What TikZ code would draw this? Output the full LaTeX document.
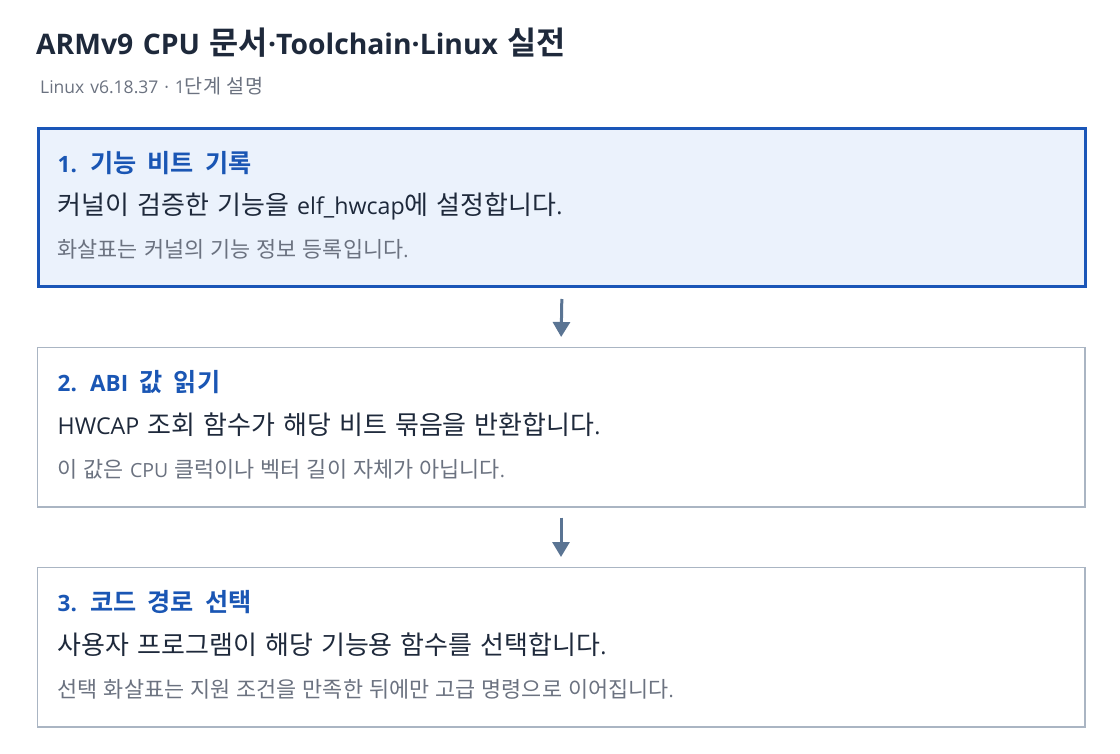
\documentclass[tikz,border=0pt]{standalone}
\usepackage{fontspec}
\setmainfont{Open Sans}
\newfontfamily\krfont{Noto Sans CJK KR}[Scale=1.12, BoldFont={Noto Sans CJK KR Bold}]
\usetikzlibrary{arrows.meta}
% Hangul syllables are set in Noto Sans CJK KR, everything else in Open Sans
\XeTeXinterchartokenstate=1
\newXeTeXintercharclass\hangulclass
\newcount\hcnt
\hcnt="AC00
\loop
  \XeTeXcharclass\hcnt=\hangulclass
  \ifnum\hcnt<"D7A3 \advance\hcnt by 1
\repeat
\XeTeXinterchartoks 0 \hangulclass = {\krfont}
\XeTeXinterchartoks 4095 \hangulclass = {\krfont}
\XeTeXinterchartoks \hangulclass 0 = {\rmfamily}
\XeTeXinterchartoks \hangulclass 4095 = {\rmfamily}
\newcommand\wordgap[1]{\spaceskip #1\relax}
\definecolor{titlec}{HTML}{1E293B}
\definecolor{subc}{HTML}{6B7280}
\definecolor{headc}{HTML}{1A56B4}
\definecolor{bodyc}{HTML}{1E293B}
\definecolor{notec}{HTML}{6B7280}
\definecolor{activefill}{HTML}{EBF2FC}
\definecolor{activeline}{HTML}{1A56B8}
\definecolor{boxline}{HTML}{AAB5C3}
\definecolor{arrowc}{HTML}{5A7493}
\tikzset{
  activebox/.style={draw=activeline, line width=3pt, fill=activefill, anchor=north west, inner sep=0pt, minimum width=1047pt, minimum height=158pt},
  plainbox/.style={draw=boxline, line width=1.5pt, fill=white, anchor=north west, inner sep=0pt, minimum width=1047.5pt, minimum height=159.5pt},
  titletext/.style={anchor=base west, inner sep=0pt, text=titlec, font={\bfseries\fontsize{28.3}{34}\selectfont}, execute at begin node={\wordgap{0.34em}}},
  subtext/.style={anchor=base west, inner sep=0pt, text=subc, font={\fontsize{17.5}{21}\selectfont}, execute at begin node={\wordgap{0.34em}}},
  headtext/.style={anchor=base west, inner sep=0pt, text=headc, font={\bfseries\fontsize{22.5}{28}\selectfont}, execute at begin node={\wordgap{0.5em}}},
  bodytext/.style={anchor=base west, inner sep=0pt, text=bodyc, font={\fontsize{23.2}{28}\selectfont}, execute at begin node={\wordgap{0.35em}}},
  notetext/.style={anchor=base west, inner sep=0pt, text=notec, font={\fontsize{19.5}{24}\selectfont}, execute at begin node={\wordgap{0.31em}}},
  flow/.style={draw=arrowc, line width=3pt, -{Triangle[width=17pt,length=15pt]}}
}
\begin{document}
\begin{tikzpicture}[x=1pt,y=-1pt]
\useasboundingbox[fill=white] (0,0) rectangle (1120,754);
\node[titletext] (title) at (36,55) {ARMv9 CPU 문서·Toolchain·Linux 실전};
\node[subtext] (sub) at (40,93.5) {Linux v6.18.37 · 1단계 설명};

\node[activebox] (b1) at (37,127.5) {};
\node[plainbox] (b2) at (36.5,346.5) {};
\node[plainbox] (b3) at (36.5,566.5) {};

\node[headtext] (h1) at (57.5,172.5) {1. 기능 비트 기록};
\node[bodytext] (t1) at (57.5,215) {커널이 검증한 기능을 elf\_hwcap에 설정합니다.};
\node[notetext] (n1) at (57.5,257.5) {화살표는 커널의 기능 정보 등록입니다.};

\node[headtext] (h2) at (57.5,391) {2. ABI 값 읽기};
\node[bodytext] (t2) at (57.5,434.5) {HWCAP 조회 함수가 해당 비트 묶음을 반환합니다.};
\node[notetext] (n2) at (57.5,477) {이 값은 CPU 클럭이나 벡터 길이 자체가 아닙니다.};

\node[headtext] (h3) at (57.5,611) {3. 코드 경로 선택};
\node[bodytext] (t3) at (57.5,654.5) {사용자 프로그램이 해당 기능용 함수를 선택합니다.};
\node[notetext] (n3) at (57.5,697) {선택 화살표는 지원 조건을 만족한 뒤에만 고급 명령으로 이어집니다.};

\draw[flow, shorten <=10.5pt, shorten >=9.5pt] (b1.south) -- (b2.north);
\draw[flow, shorten <=10pt, shorten >=9.5pt] (b2.south) -- (b3.north);
\end{tikzpicture}
\end{document}
